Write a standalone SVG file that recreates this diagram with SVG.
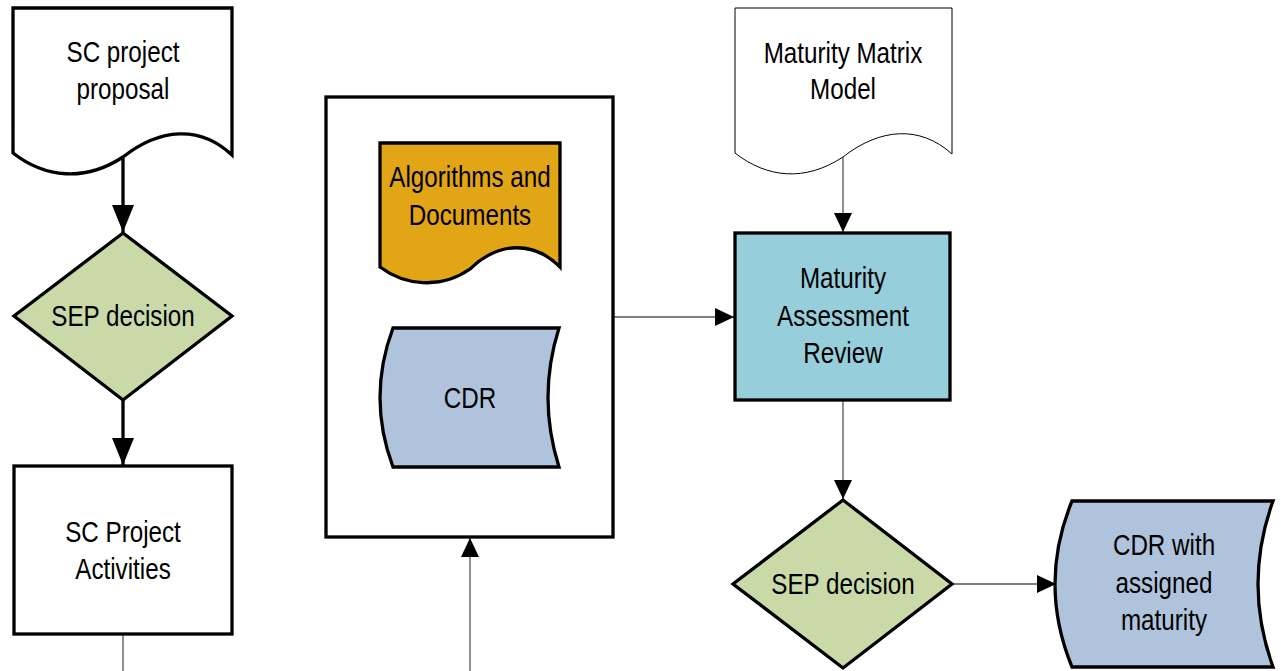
<svg xmlns="http://www.w3.org/2000/svg" width="1281" height="671" viewBox="0 0 1281 671">
  <defs>
    <style>
      .bold { stroke: #000; stroke-width: 3.3; stroke-linejoin: miter; }
      .fine { stroke: #000; stroke-width: 1; }
      .wire { fill: none; stroke: #000; stroke-width: 3.3; }
      .thin { fill: none; stroke: #555; stroke-width: 1.3; }
      .label { font-family: "Liberation Sans", Arial, sans-serif; font-size: 29px; fill: #000; text-anchor: middle; }
      .white { fill: #fff; }
      .green { fill: #C9D9A8; }
      .gold { fill: #E1A516; }
      .steel { fill: #B0C3DC; }
      .teal { fill: #96CEDB; }
    </style>
    <marker id="headBig" markerUnits="userSpaceOnUse" markerWidth="28" markerHeight="22" refX="27" refY="11" orient="auto">
      <path d="M0,0 L27,11 L0,22 Z" fill="#000"/>
    </marker>
    <marker id="headSmall" markerUnits="userSpaceOnUse" markerWidth="20" markerHeight="18" refX="19" refY="9" orient="auto">
      <path d="M0,0 L19,9 L0,18 Z" fill="#000"/>
    </marker>
  </defs>

  <!-- connectors -->
  <g id="connectors">
    <line class="wire" x1="123" y1="157" x2="123" y2="232" marker-end="url(#headBig)"/>
    <line class="wire" x1="123" y1="400" x2="123" y2="465" marker-end="url(#headBig)"/>
    <line class="thin" x1="123" y1="634" x2="123" y2="671"/>
    <line class="thin" x1="470" y1="671" x2="470" y2="538" marker-end="url(#headSmall)"/>
    <line class="thin" x1="613" y1="317" x2="734" y2="317" marker-end="url(#headSmall)"/>
    <line class="thin" x1="843" y1="157" x2="843" y2="232" marker-end="url(#headSmall)"/>
    <line class="thin" x1="843" y1="400" x2="843" y2="499" marker-end="url(#headSmall)"/>
    <line class="thin" x1="952" y1="584" x2="1056" y2="584" marker-end="url(#headSmall)"/>
  </g>

  <!-- SC project proposal (document) -->
  <g id="proposal">
    <path class="white bold" d="M13,8 H232 V155 C200,125 160,128 123,157 C85,182 45,178 13,153 Z"/>
    <g transform="translate(123 0) scale(0.835 1)">
      <text class="label" x="0" y="62">SC project</text>
      <text class="label" x="0" y="99">proposal</text>
    </g>
  </g>

  <!-- first SEP decision -->
  <g id="decision1">
    <polygon class="green bold" points="123,233 232,316 123,400 14,316"/>
    <g transform="translate(123 0) scale(0.835 1)">
      <text class="label" x="0" y="326">SEP decision</text>
    </g>
  </g>

  <!-- SC Project Activities -->
  <g id="activities">
    <rect class="white bold" x="14" y="466" width="218" height="168"/>
    <g transform="translate(123 0) scale(0.835 1)">
      <text class="label" x="0" y="542">SC Project</text>
      <text class="label" x="0" y="579">Activities</text>
    </g>
  </g>

  <!-- container holding algorithms and CDR -->
  <g id="container">
    <rect class="white bold" x="326" y="97" width="287" height="440"/>
  </g>

  <g id="algorithms">
    <path class="gold bold" d="M380,143 H560 V267 C535,242 500,240 470,269 C440,290 404,285 380,267 Z"/>
    <g transform="translate(470 0) scale(0.835 1)">
      <text class="label" x="0" y="187">Algorithms and</text>
      <text class="label" x="0" y="225">Documents</text>
    </g>
  </g>

  <g id="cdr">
    <path class="steel bold" d="M393,328 H559 Q537,397.5 559,467 H393 Q367,397.5 393,328 Z"/>
    <g transform="translate(470 0) scale(0.835 1)">
      <text class="label" x="0" y="408">CDR</text>
    </g>
  </g>

  <!-- Maturity Matrix Model (document) -->
  <g id="matrix">
    <path class="white fine" d="M735,8 H952 V154 C920,125 880,128 843,157 C805,182 767,178 735,153 Z"/>
    <g transform="translate(843 0) scale(0.835 1)">
      <text class="label" x="0" y="63">Maturity Matrix</text>
      <text class="label" x="0" y="99">Model</text>
    </g>
  </g>

  <!-- Maturity Assessment Review -->
  <g id="review">
    <rect class="teal bold" x="735" y="233" width="215" height="167"/>
    <g transform="translate(843 0) scale(0.835 1)">
      <text class="label" x="0" y="288">Maturity</text>
      <text class="label" x="0" y="326">Assessment</text>
      <text class="label" x="0" y="363">Review</text>
    </g>
  </g>

  <!-- second SEP decision -->
  <g id="decision2">
    <polygon class="green bold" points="843,500 952,584 843,668 733,584"/>
    <g transform="translate(843 0) scale(0.835 1)">
      <text class="label" x="0" y="594">SEP decision</text>
    </g>
  </g>

  <!-- CDR with assigned maturity -->
  <g id="cdrMaturity">
    <path class="steel bold" d="M1072,501 H1273 Q1243,584 1273,667 H1072 Q1038,584 1072,501 Z"/>
    <g transform="translate(1164 0) scale(0.835 1)">
      <text class="label" x="0" y="555">CDR with</text>
      <text class="label" x="0" y="593">assigned</text>
      <text class="label" x="0" y="630">maturity</text>
    </g>
  </g>
</svg>
